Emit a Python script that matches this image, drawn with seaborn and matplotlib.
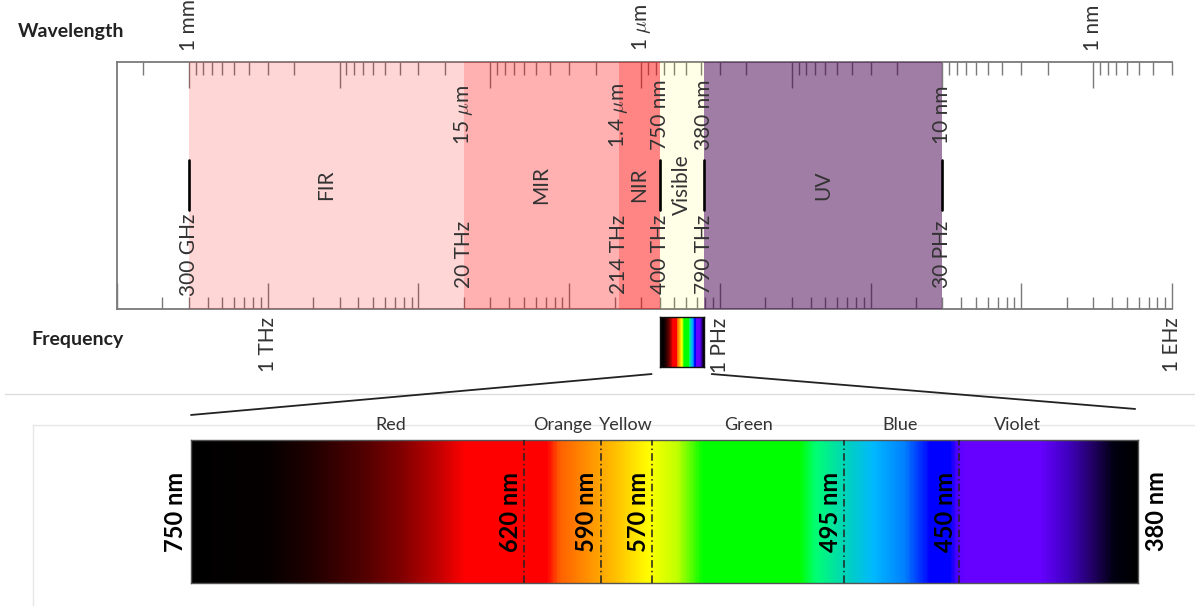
import numpy as np
import matplotlib
matplotlib.use("Agg")
import matplotlib.pyplot as plt
import seaborn as sns
from matplotlib.colors import LinearSegmentedColormap
from matplotlib.ticker import LogLocator, FuncFormatter, NullFormatter
from matplotlib.patches import ConnectionPatch

C_LIGHT = 299_792_458.0  # speed of light, m/s

# Electromagnetic bands, frequency bounds in Hz
band_names = ["FIR", "MIR", "NIR", "Visible", "UV"]
band_lo_hz = [300e9, 20e12, 214e12, 400e12, 790e12]
band_hi_hz = [20e12, 214e12, 400e12, 790e12, 30e15]
band_colors = ["#ff0000", "#ff0000", "#ff0000", "#ffff00", "#46004e"]
band_alpha = [0.16, 0.31, 0.48, 0.09, 0.51]

# Band edges: frequency name, wavelength name, and whether a marker bar is drawn
edge_hz = [300e9, 20e12, 214e12, 400e12, 790e12, 30e15]
edge_freq_text = ["300 GHz", "20 THz", "214 THz", "400 THz", "790 THz", "30 PHz"]
edge_wl_text = ["", r"15 $\mu$m", r"1.4 $\mu$m", "750 nm", "380 nm", "10 nm"]
edge_bar = [True, False, False, True, True, True]

# Axis range and labelled decades
freq_range_hz = [1e11, 1e18]
freq_tick_hz = [1e12, 1e15, 1e18]
freq_tick_text = ["1 THz", "1 PHz", "1 EHz"]
wl_tick_m = [1e-3, 1e-6, 1e-9]
wl_tick_text = ["1 mm", r"1 $\mu$m", "1 nm"]

# Visible spectrum colour stops along wavelength (nm)
spec_range_nm = [750, 380]
spec_nm = [750, 720, 703, 683, 668, 654, 643, 611, 606, 595, 584, 571, 560,
           550, 512, 506, 493, 483, 471, 461, 453, 450, 447, 418, 407, 397,
           389, 380]
spec_rgb = ["#000000", "#060000", "#200000", "#500000", "#800000", "#c00000",
            "#ff0000", "#ff0000", "#ff6000", "#ff9000", "#ffc000", "#ffff00",
            "#c0ff00", "#00ff00", "#00ff00", "#00ff70", "#00d0c0", "#00b8ff",
            "#0080ff", "#0000ff", "#0000ff", "#5a00ff", "#6600ff", "#6600ff",
            "#4000c0", "#200060", "#000010", "#000000"]

# Named colour ranges inside the visible band
hue_names = ["Red", "Orange", "Yellow", "Green", "Blue", "Violet"]
hue_label_nm = [672, 605, 580, 532, 473, 427]
hue_edge_nm = [620, 590, 570, 495, 450]

sns.set_theme(style="white")
plt.rcParams["font.family"] = ["Lato", "DejaVu Sans"]
plt.rcParams["mathtext.fontset"] = "cm"

TXT = "#333333"
AX_GREY = "#7a7a7a"

W, H = 1195, 606
fig = plt.figure(figsize=(W / 100, H / 100), dpi=100)

# ---- background frame lines of the lower panel ----
bg1 = fig.add_axes([5 / W, 0, 1 - 5 / W, (H - 394) / H], zorder=-3)
bg2 = fig.add_axes([33 / W, 0, 1 - 33 / W, (H - 425) / H], zorder=-2)
for bg, sides, col in [(bg1, ["top"], "#dedede"), (bg2, ["left", "top"], "#e6e6e6")]:
    bg.set_facecolor("none")
    bg.set_xticks([])
    bg.set_yticks([])
    for name, sp in bg.spines.items():
        sp.set_visible(name in sides)
        sp.set_color(col)
        sp.set_linewidth(1.0)

# ---- spectrum colour map ----
order = np.argsort(spec_nm)
lo_nm, hi_nm = min(spec_range_nm), max(spec_range_nm)
stops = [((spec_nm[i] - lo_nm) / (hi_nm - lo_nm), spec_rgb[i]) for i in order]
vis_cmap = LinearSegmentedColormap.from_list("visible", stops, N=1024)
strip = np.linspace(spec_range_nm[0], spec_range_nm[1], 740)[None, :]


def draw_strip(ax, edge_col, lw):
    sns.heatmap(strip, ax=ax, cmap=vis_cmap, vmin=lo_nm, vmax=hi_nm, cbar=False,
                xticklabels=False, yticklabels=False, rasterized=True)
    ax.set_xlabel("")
    ax.set_ylabel("")
    for sp in ax.spines.values():
        sp.set_visible(True)
        sp.set_color(edge_col)
        sp.set_linewidth(lw)


# ---- upper panel: frequency (bottom) and wavelength (top) log axes ----
ax_f = fig.add_axes([117 / W, (H - 309) / H, 1055 / W, 247 / H])
ax_f.set_xscale("log")
ax_f.set_xlim(*freq_range_hz)
ax_f.set_ylim(0, 1)
ax_f.set_yticks([])
ax_w = ax_f.twiny()
ax_w.set_xscale("log")
ax_w.set_xlim(C_LIGHT / freq_range_hz[0], C_LIGHT / freq_range_hz[1])


def decade_formatter(ticks, texts):
    def fmt(v, pos):
        for t, s in zip(ticks, texts):
            if v > 0 and abs(np.log10(v) - np.log10(t)) < 1e-6:
                return s
        return ""
    return FuncFormatter(fmt)


for ax, ticks, texts, pad in [(ax_f, freq_tick_hz, freq_tick_text, 6),
                              (ax_w, wl_tick_m, wl_tick_text, 8)]:
    ax.xaxis.set_major_locator(LogLocator(base=10.0, numticks=40))
    ax.xaxis.set_minor_locator(LogLocator(base=10.0, subs=np.arange(2, 10), numticks=40))
    ax.xaxis.set_major_formatter(decade_formatter(ticks, texts))
    ax.xaxis.set_minor_formatter(NullFormatter())
    ax.tick_params(axis="x", which="major", direction="in", length=18.5, width=1.0,
                   color=AX_GREY, labelsize=15, labelcolor=TXT, pad=pad,
                   labelrotation=90)
    ax.tick_params(axis="x", which="minor", direction="in", length=9, width=1.0,
                   color=AX_GREY)

for name, sp in ax_f.spines.items():
    sp.set_visible(name in ("left", "bottom"))
    sp.set_color(AX_GREY)
    sp.set_linewidth(1.3)
for name, sp in ax_w.spines.items():
    sp.set_visible(name == "top")
    sp.set_color(AX_GREY)
    sp.set_linewidth(1.3)

# coloured bands, laid over the tick marks
for name, lo, hi, col, a in zip(band_names, band_lo_hz, band_hi_hz, band_colors, band_alpha):
    ax_w.axvspan(C_LIGHT / lo, C_LIGHT / hi, color=col, alpha=a, lw=0, zorder=3)
    mid = np.sqrt(lo * hi)
    ax_w.text(C_LIGHT / mid, 0.502, name, transform=ax_w.get_xaxis_transform(),
              rotation=90, ha="center", va="center", fontsize=15, color=TXT, zorder=5)

xt = ax_w.get_xaxis_transform()
for f, ftxt, wtxt, bar in zip(edge_hz, edge_freq_text, edge_wl_text, edge_bar):
    lam = C_LIGHT / f
    ax_w.text(lam, 0.22, ftxt, transform=xt, rotation=90, ha="center", va="center",
              fontsize=15, color=TXT, zorder=5)
    if wtxt:
        ax_w.text(lam, 0.785, wtxt, transform=xt, rotation=90, ha="center",
                  va="center", fontsize=15, color=TXT, zorder=5)
    if bar:
        ax_w.axvline(lam, ymin=0.40, ymax=0.603, color="black", lw=1.9, zorder=5)

fig.text(124 / W, 1 - 31 / H, "Wavelength", ha="right", va="center",
         fontsize=14, fontweight="bold", color="#222222")
fig.text(124 / W, 1 - 340 / H, "Frequency", ha="right", va="center",
         fontsize=14, fontweight="bold", color="#222222")

# small visible strip under the visible band
ax_small = ax_f.inset_axes([band_lo_hz[3], -0.235, band_hi_hz[3] - band_lo_hz[3], 0.202],
                           transform=ax_f.get_xaxis_transform())
draw_strip(ax_small, "#111111", 1.0)

# ---- lower panel: enlarged visible spectrum ----
ax_spec = fig.add_axes([191 / W, (H - 583) / H, 947 / W, 143 / H])
draw_strip(ax_spec, "#555555", 1.0)
ax_nm = ax_spec.twiny()
ax_nm.set_xlim(*spec_range_nm)
ax_nm.xaxis.set_visible(False)
for sp in ax_nm.spines.values():
    sp.set_visible(False)
nt = ax_nm.get_xaxis_transform()

NM_SIZE = 17
for nm in hue_edge_nm:
    ax_nm.axvline(nm, color="#222222", lw=1.1, ls=(0, (5, 2, 1, 2)))
    ax_nm.annotate(f"{nm} nm", xy=(nm, 0.5), xycoords=nt, xytext=(-1.5, 0),
                   textcoords="offset points", rotation=90, ha="right", va="center",
                   fontsize=NM_SIZE, fontweight="bold", color="black")

ax_nm.annotate(f"{spec_range_nm[0]} nm", xy=(spec_range_nm[0], 0.5), xycoords=nt,
               xytext=(-3, 0), textcoords="offset points", rotation=90, ha="right",
               va="center", fontsize=NM_SIZE, fontweight="bold", color="black",
               annotation_clip=False)
ax_nm.annotate(f"{spec_range_nm[1]} nm", xy=(spec_range_nm[1], 0.5), xycoords=nt,
               xytext=(5, 0), textcoords="offset points", rotation=90, ha="left",
               va="center", fontsize=NM_SIZE, fontweight="bold", color="black",
               annotation_clip=False)

for name, nm in zip(hue_names, hue_label_nm):
    ax_nm.annotate(name, xy=(nm, 1.0), xycoords=nt, xytext=(0, 7),
                   textcoords="offset points", ha="center", va="baseline",
                   fontsize=13, color=TXT)

# zoom connectors from the small strip to the enlarged one
for a_xy, b_xy in [((-0.186, -0.14), (0.0, 1.175)), ((1.163, -0.14), (0.997, 1.217))]:
    con = ConnectionPatch(xyA=a_xy, coordsA=ax_small.transAxes,
                          xyB=b_xy, coordsB=ax_spec.transAxes,
                          color="#222222", lw=1.3)
    fig.add_artist(con)

fig.savefig("out.png", dpi=100)
